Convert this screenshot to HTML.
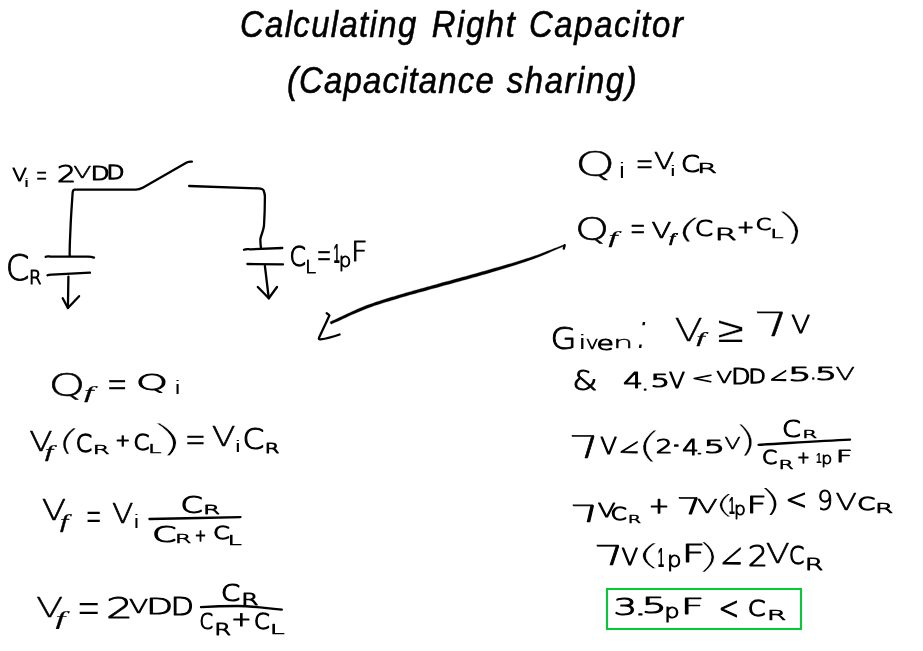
<!DOCTYPE html>
<html lang="en">
<head>
<meta charset="utf-8">
<title>Calculating Right Capacitor (Capacitance sharing)</title>
<style>
html,body{margin:0;padding:0;background:#fff;}
body{width:923px;height:651px;overflow:hidden;position:relative;}
#board{position:absolute;left:0;top:0;}
text{font-size:100px;fill:#000;white-space:pre;stroke-linejoin:round;stroke-linecap:round;vector-effect:non-scaling-stroke;}
.t{font-family:"Liberation Sans",sans-serif;font-style:italic;stroke:#000;stroke-width:0.55px;}
.x{font-family:"DejaVu Sans Light","DejaVu Sans","Liberation Sans",sans-serif;font-weight:200;}
.h{font-family:"Liberation Sans",sans-serif;}
.hb{font-family:"Liberation Sans",sans-serif;font-weight:bold;}
.hi{font-family:"Liberation Sans",sans-serif;font-style:italic;}
.ri{font-family:"Liberation Serif",serif;font-style:italic;}
.r{font-family:"Liberation Serif",serif;}
.ink{fill:none;stroke:#000;stroke-width:2.3;stroke-linecap:round;stroke-linejoin:round;}
.box{fill:none;stroke:#00cc33;stroke-width:2;}
svg{display:block;will-change:transform;}
</style>
</head>
<body>
<svg id="board" width="923" height="651" viewBox="0 0 923 651">
<rect width="923" height="651" fill="#fff"/>

<g id="title">
<text class="t" transform="matrix(0.3285 0 0 0.3650 239.89 37.30)" letter-spacing="4.21">Calculating</text>
<text class="t" transform="matrix(0.3285 0 0 0.3650 431.81 37.30)" letter-spacing="4.82">Right</text>
<text class="t" transform="matrix(0.3285 0 0 0.3650 528.89 37.30)" letter-spacing="5.08">Capacitor</text>
<text class="t" transform="matrix(0.3285 0 0 0.3650 286.94 92.90)" letter-spacing="3.66">(Capacitance</text>
<text class="t" transform="matrix(0.3285 0 0 0.3650 506.72 92.90)" letter-spacing="4.91">sharing)</text>
</g>
<g id="circuit">
<path class="ink" d="M69.7 255.7 C69.5 245 70.3 235 70.5 228 C71 215 72 203 72.6 193 C72.8 190.5 73.5 189.9 74.4 189.7 L135.8 189.7 C138 189.5 140 189 142.3 187.9 L186.7 162.5 C188.5 161.7 190 161.6 191.9 161.7" stroke-width="2.3"/>
<path class="ink" d="M189.1 186 L258.3 188.4 C262 188.6 263.3 189.3 263.8 191 C264.6 193 264.9 195 264.9 197 C264.9 207 264.6 216 264 225.7 C263.5 231 261 235 260.4 238.8 C260.2 242 260.6 245 261 248" stroke-width="2.3"/>
<path class="ink" d="M45.7 256.8 C47 256 48 256.3 50 256.5 L88 256.6 C90 256.6 92 256.8 94 257.6" stroke-width="2.3"/>
<path class="ink" d="M47.5 275.3 C49 274.5 50 274.6 52 274.6 L90 272.7" stroke-width="2.3"/>
<path class="ink" d="M68.4 276.6 L67.9 308" stroke-width="2.3"/>
<path class="ink" d="M62.7 298.3 L67.9 308 L79.1 296.2" stroke-width="2.3"/>
<path class="ink" d="M244 249.7 C246 248.8 248 249.2 250 249.3 L282.3 248" stroke-width="2.3"/>
<path class="ink" d="M247.4 264 L283 264.4" stroke-width="2.3"/>
<path class="ink" d="M264.9 266 L268.8 298.3" stroke-width="2.3"/>
<path class="ink" d="M257.8 287 L268.8 298.3 L277 287" stroke-width="2.3"/>
<path d="M564.5 244.6 L562.0 245.5 L559.6 246.5 L557.2 247.4 L554.8 248.3 L552.4 249.3 L550.0 250.2 L547.6 251.1 L545.2 252.1 L542.7 253.0 L540.3 253.9 L537.7 254.9 L535.1 255.8 L532.4 256.7 L529.6 257.7 L526.7 258.6 L523.8 259.6 L520.7 260.5 L517.6 261.5 L514.5 262.4 L511.3 263.4 L508.0 264.3 L504.8 265.3 L501.5 266.3 L498.2 267.2 L494.9 268.1 L491.6 269.1 L488.3 270.0 L485.1 270.9 L481.8 271.8 L478.6 272.8 L475.3 273.7 L472.1 274.6 L468.8 275.5 L465.5 276.4 L462.2 277.3 L458.9 278.2 L455.7 279.1 L452.4 280.0 L449.2 280.9 L445.9 281.7 L442.7 282.6 L439.6 283.5 L436.4 284.4 L433.3 285.3 L430.1 286.2 L426.9 287.0 L423.8 287.9 L420.6 288.8 L417.5 289.7 L414.4 290.5 L411.4 291.4 L408.4 292.2 L405.5 293.1 L402.6 293.9 L399.8 294.7 L397.1 295.6 L394.4 296.4 L391.9 297.1 L389.5 297.8 L387.1 298.6 L384.8 299.3 L382.5 300.0 L380.3 300.7 L378.1 301.4 L375.9 302.1 L373.7 302.9 L371.4 303.7 L369.2 304.5 L366.8 305.3 L364.5 306.2 L362.1 307.2 L359.6 308.2 L357.2 309.3 L354.7 310.4 L352.3 311.5 L349.8 312.7 L347.3 313.8 L344.8 315.0 L342.3 316.2 L339.9 317.3 L337.4 318.5 L334.9 319.7 L332.4 320.8 L330.0 322.0 L331.0 324.2 L333.5 323.1 L336.0 322.0 L338.5 320.9 L341.0 319.7 L343.5 318.6 L346.0 317.4 L348.4 316.3 L350.9 315.1 L353.4 314.0 L355.9 312.9 L358.3 311.9 L360.7 310.9 L363.1 309.9 L365.5 309.0 L367.9 308.1 L370.2 307.2 L372.4 306.4 L374.6 305.6 L376.8 304.9 L379.0 304.2 L381.2 303.5 L383.4 302.8 L385.7 302.1 L388.0 301.4 L390.3 300.7 L392.8 300.0 L395.3 299.2 L397.9 298.4 L400.6 297.6 L403.4 296.8 L406.3 296.0 L409.2 295.1 L412.2 294.3 L415.3 293.5 L418.3 292.6 L421.5 291.7 L424.6 290.9 L427.8 290.0 L430.9 289.1 L434.1 288.2 L437.3 287.4 L440.4 286.5 L443.6 285.6 L446.8 284.7 L450.0 283.9 L453.2 283.0 L456.5 282.1 L459.7 281.2 L463.0 280.3 L466.3 279.4 L469.6 278.5 L472.9 277.6 L476.2 276.7 L479.4 275.7 L482.7 274.8 L485.9 273.9 L489.2 272.9 L492.4 271.9 L495.7 271.0 L499.0 270.0 L502.3 269.0 L505.6 268.0 L508.8 267.0 L512.1 266.0 L515.3 265.0 L518.4 264.0 L521.5 262.9 L524.6 261.9 L527.5 260.9 L530.4 259.9 L533.2 258.9 L535.9 257.9 L538.5 256.9 L541.0 255.9 L543.5 254.9 L545.9 253.9 L548.3 252.9 L550.7 251.8 L553.0 250.8 L555.4 249.8 L557.7 248.8 L560.1 247.8 L562.5 246.8 L564.9 245.8Z" fill="#000" stroke="#000" stroke-width="0.3" stroke-linejoin="round"/>
<path class="ink" d="M564.7 245.2 L563.8 248.6" stroke-width="1.4"/>
<path class="ink" d="M326.7 313.2 C328 314 329 314.8 329.4 315.6 C326 323 322.5 330.5 319.1 337.6 C318.5 339 319 339.6 320.5 339.4 C327 338.5 333.5 336.6 339.6 334.5" stroke-width="2.2"/>
</g>
<g id="vi">
<text class="x" transform="matrix(0.2138 0 0 0.1835 12.33 181.28)" stroke="#000" stroke-width="1.06">V</text><text class="x" transform="matrix(0.4689 0 0 0.1145 20.33 186.83)">i</text>
<text class="x" transform="matrix(0.1399 0 0 0.3483 35.78 187.43)" stroke="#000" stroke-width="0.31">=</text>
<text class="x" transform="matrix(0.301 0 0 0.2307 56.97 182.46)" stroke="#000" stroke-width="1.27">2</text><text class="x" transform="matrix(0.2662 0 0 0.1533 73.16 177.92)" stroke="#000" stroke-width="0.67">V</text><text class="x" transform="matrix(0.2446 0 0 0.1856 90.82 179.97)" stroke="#000" stroke-width="1.45">D</text><text class="x" transform="matrix(0.2335 0 0 0.1916 106.47 179.17)" stroke="#000" stroke-width="1.47">D</text>
</g>
<g id="cr">
<text class="x" transform="matrix(0.3398 0 0 0.3507 5.84 279.83)" stroke="#000" stroke-width="0.89">C</text><text class="x" transform="matrix(0.1801 0 0 0.1934 29.06 283.98)" stroke="#000" stroke-width="1.15">R</text>
</g>
<g id="cl">
<text class="x" transform="matrix(0.234 0 0 0.2741 289.44 266.22)" stroke="#000" stroke-width="1.24">C</text><text class="x" transform="matrix(0.1981 0 0 0.1803 305.09 273.48)" stroke="#000" stroke-width="0.84">L</text>
<text class="x" transform="matrix(0.1797 0 0 0.4275 316.43 269.07)" stroke="#000" stroke-width="0.36">=</text>
<text class="hb" transform="matrix(0.1127 0 0 0.2828 333.52 263.20)">1</text><text class="x" transform="matrix(0.1983 0 0 0.1892 338.76 266.88)" stroke="#000" stroke-width="0.99">p</text><text class="x" transform="matrix(0.2879 0 0 0.2623 351.07 260.95)" stroke="#000" stroke-width="0.90">F</text>
</g>
<g id="eq1">
<text class="x" transform="matrix(0.4693 0 0 0.3125 48.45 395.67)" stroke="#000" stroke-width="0.64">Q</text><text class="ri" transform="matrix(0.3367 0 0 0.1736 84.33 397.78)" stroke="#000" stroke-width="0.40">f</text>
<text class="x" transform="matrix(0.2492 0 0 0.4413 106.82 398.65)" stroke="#000" stroke-width="0.38">=</text>
<text class="x" transform="matrix(0.4122 0 0 0.2166 135.79 390.23)" stroke="#000" stroke-width="1.20">Q</text><text class="x" transform="matrix(0.4689 0 0 0.1735 171.33 393.72)">i</text>
</g>
<g id="eq2">
<text class="x" transform="matrix(0.3413 0 0 0.2614 29.28 450.81)" stroke="#000" stroke-width="0.68">V</text><text class="ri" transform="matrix(0.2972 0 0 0.169 44.96 457.49)" stroke="#000" stroke-width="0.46">f</text><text class="x" transform="matrix(0.4746 0 -0.0713 0.285 56.28 450.49)" stroke="#000" stroke-width="0.17">(</text><text class="x" transform="matrix(0.2355 0 0 0.239 75.83 451.71)" stroke="#000" stroke-width="1.35">C</text><text class="x" transform="matrix(0.2438 0 0 0.1259 92.63 453.62)" stroke="#000" stroke-width="1.08">R</text><text class="x" transform="matrix(0.1736 0 0 0.1639 115.46 446.26)" stroke="#000" stroke-width="1.38">+</text><text class="x" transform="matrix(0.2277 0 0 0.2111 133.42 449.83)" stroke="#000" stroke-width="1.41">C</text><text class="x" transform="matrix(0.2418 0 0 0.1268 148.07 453.41)" stroke="#000" stroke-width="1.01">L</text><text class="x" transform="matrix(0.8261 0 0.1092 0.3639 155.78 450.57)" stroke="#fff" stroke-width="0.65">)</text>
<text class="x" transform="matrix(0.2548 0 0 0.4116 184.81 453.41)" stroke="#000" stroke-width="0.37">=</text>
<text class="x" transform="matrix(0.3479 0 0 0.2582 211.80 445.82)" stroke="#000" stroke-width="0.67">V</text><text class="x" transform="matrix(0.473 0 0 0.1661 231.47 452.26)">i</text><text class="x" transform="matrix(0.3131 0 0 0.2773 242.59 449.46)" stroke="#000" stroke-width="1.04">C</text><text class="x" transform="matrix(0.2105 0 0 0.1449 264.75 452.56)" stroke="#000" stroke-width="1.27">R</text>
</g>
<g id="eq3">
<text class="x" transform="matrix(0.3575 0 0 0.2859 41.80 519.94)" stroke="#000" stroke-width="0.63">V</text><text class="ri" transform="matrix(0.2989 0 0 0.1953 59.92 528.46)" stroke="#000" stroke-width="0.39">f</text>
<text class="x" transform="matrix(0.1951 0 0 0.537 85.47 533.97)">=</text>
<text class="x" transform="matrix(0.3134 0 0 0.2576 111.96 523.43)" stroke="#000" stroke-width="0.75">V</text><text class="x" transform="matrix(0.4599 0 0 0.1713 130.26 527.91)">i</text>
<text class="x" transform="matrix(0.32 0 0 0.2336 180.51 512.75)" stroke="#000" stroke-width="1.31">C</text><text class="x" transform="matrix(0.2468 0 0 0.1315 203.09 514.18)" stroke="#000" stroke-width="1.15">R</text>
<text class="x" transform="matrix(0.3463 0 0 0.2061 152.33 541.54)" stroke="#000" stroke-width="1.49">C</text><text class="x" transform="matrix(0.2357 0 0 0.1226 174.97 543.03)" stroke="#000" stroke-width="1.07">R</text><text class="x" transform="matrix(0.1319 0 0 0.1496 195.02 540.84)" stroke="#000" stroke-width="1.23">+</text><text class="x" transform="matrix(0.2355 0 0 0.1699 213.31 539.33)" stroke="#000" stroke-width="1.52">C</text><text class="x" transform="matrix(0.2577 0 0 0.1381 227.56 544.99)" stroke="#000" stroke-width="1.04">L</text>
<path class="ink" d="M149.4 519 C180 518.4 210 517.8 240.5 517.1" stroke-width="2.5"/>
</g>
<g id="eq4">
<text class="x" transform="matrix(0.3992 0 0 0.2734 36.03 617.48)" stroke="#000" stroke-width="0.45">V</text><text class="ri" transform="matrix(0.3589 0 0 0.1984 55.43 625.36)" stroke="#000" stroke-width="0.26">f</text>
<text class="x" transform="matrix(0.2858 0 0 0.5492 76.75 625.58)" stroke="#000" stroke-width="0.14">=</text>
<text class="x" transform="matrix(0.4262 0 0 0.2864 106.03 618.13)" stroke="#000" stroke-width="1.04">2</text><text class="x" transform="matrix(0.281 0 0 0.1993 129.11 613.43)" stroke="#000" stroke-width="0.85">V</text><text class="x" transform="matrix(0.3476 0 0 0.2133 146.29 614.03)" stroke="#000" stroke-width="1.23">D</text><text class="x" transform="matrix(0.3012 0 0 0.2406 170.85 615.21)" stroke="#000" stroke-width="1.19">D</text>
<text class="x" transform="matrix(0.2747 0 0 0.2256 220.96 600.78)" stroke="#000" stroke-width="1.36">C</text><text class="x" transform="matrix(0.2482 0 0 0.1641 241.26 604.93)" stroke="#000" stroke-width="1.32">R</text>
<text class="x" transform="matrix(0.1938 0 0 0.2053 199.57 628.52)" stroke="#000" stroke-width="1.16">C</text><text class="x" transform="matrix(0.2418 0 0 0.1637 214.26 634.52)" stroke="#000" stroke-width="1.25">R</text><text class="x" transform="matrix(0.2352 0 0 0.1901 231.38 626.43)" stroke="#000" stroke-width="1.40">+</text><text class="x" transform="matrix(0.2242 0 0 0.2074 254.10 628.79)" stroke="#000" stroke-width="1.39">C</text><text class="x" transform="matrix(0.2678 0 0 0.1467 269.71 634.15)" stroke="#000" stroke-width="1.09">L</text>
<path class="ink" d="M201 607.2 C213 606.4 226 606 237.7 606 C253 606.3 268 608 281.8 609.6" stroke-width="2.8"/>
</g>
<g id="eq5">
<text class="x" transform="matrix(0.5119 0 0 0.3303 574.99 176.09)" stroke="#000" stroke-width="0.54">Q</text><text class="x" transform="matrix(0.4599 0 0 0.2108 615.76 178.41)">i</text>
<text class="x" transform="matrix(0.2169 0 0 0.3948 635.54 175.82)" stroke="#000" stroke-width="0.35">=</text>
<text class="x" transform="matrix(0.2975 0 0 0.2215 654.09 168.99)" stroke="#000" stroke-width="0.83">V</text><text class="x" transform="matrix(0.4689 0 0 0.1398 666.58 175.76)">i</text><text class="x" transform="matrix(0.2702 0 0 0.2348 681.10 171.92)" stroke="#000" stroke-width="1.26">C</text><text class="x" transform="matrix(0.289 0 0 0.1462 696.98 173.24)" stroke="#000" stroke-width="1.13">R</text>
</g>
<g id="eq6">
<text class="x" transform="matrix(0.4339 0 0 0.3119 574.91 240.25)" stroke="#000" stroke-width="0.69">Q</text><text class="ri" transform="matrix(0.3282 0 0 0.1697 608.55 243.30)" stroke="#000" stroke-width="0.40">f</text>
<text class="x" transform="matrix(0.1924 0 0 0.4021 629.84 242.36)" stroke="#000" stroke-width="0.25">=</text>
<text class="x" transform="matrix(0.2907 0 0 0.2206 651.43 237.57)" stroke="#000" stroke-width="0.86">V</text><text class="ri" transform="matrix(0.2137 0 0 0.1324 669.15 241.51)" stroke="#000" stroke-width="0.85">f</text><text class="x" transform="matrix(0.5555 0 -0.08 0.2666 674.83 238.11)" stroke="#000" stroke-width="0.22">(</text><text class="x" transform="matrix(0.2626 0 0 0.2194 694.75 236.41)" stroke="#000" stroke-width="1.33">C</text><text class="x" transform="matrix(0.3221 0 0 0.1652 714.59 240.20)" stroke="#000" stroke-width="1.19">R</text><text class="x" transform="matrix(0.2055 0 0 0.1687 737.07 233.07)" stroke="#000" stroke-width="1.27">+</text><text class="x" transform="matrix(0.2217 0 0 0.1557 755.84 230.19)" stroke="#000" stroke-width="1.45">C</text><text class="x" transform="matrix(0.2384 0 0 0.1269 770.19 237.73)" stroke="#000" stroke-width="1.04">L</text><text class="x" transform="matrix(0.674 0 0.1089 0.363 781.76 238.69)" stroke="#fff" stroke-width="0.27">)</text>
</g>
<g id="eq7">
<text class="x" transform="matrix(0.3365 0 0 0.3061 550.46 349.41)" stroke="#000" stroke-width="0.97">G</text><text class="x" transform="matrix(0.521 0 0 0.1989 575.35 349.26)">i</text><text class="x" transform="matrix(0.2241 0 0 0.1766 585.59 348.86)" stroke="#000" stroke-width="0.79">v</text><text class="x" transform="matrix(0.2814 0 0 0.1901 596.50 349.91)" stroke="#000" stroke-width="1.42">e</text><text class="x" transform="matrix(0.3211 0 0 0.1598 613.05 348.03)" stroke="#000" stroke-width="0.57">n</text><text class="x" transform="matrix(0.4943 0 -0.0816 0.544 631.83 347.91)">:</text>
<text class="x" transform="matrix(0.415 0 0 0.3107 674.54 341.12)" stroke="#000" stroke-width="0.38">V</text><text class="ri" transform="matrix(0.2979 0 0 0.1553 696.59 343.10)" stroke="#000" stroke-width="0.51">f</text>
<text class="x" transform="matrix(0.4805 0 0 0.3611 717.42 341.64)" stroke="#fff" stroke-width="0.19">≥</text>
<text class="x" transform="matrix(0.5662 0 0.1003 0.3343 759.81 335.68)" stroke="#000" stroke-width="0.45">7</text><text class="x" transform="matrix(0.2786 0 0 0.2555 791.14 333.35)" stroke="#000" stroke-width="0.90">V</text>
</g>
<g id="eq8">
<text class="x" transform="matrix(0.325 0 0 0.2655 572.36 389.99)" stroke="#000" stroke-width="1.05">&amp;</text>
<text class="x" transform="matrix(0.3174 0 0 0.2132 623.05 388.21)" stroke="#000" stroke-width="1.19">4</text><text class="x" transform="matrix(0.2148 0 0 0.1601 641.74 389.84)" stroke="#000" stroke-width="1.50">.</text><text class="x" transform="matrix(0.3051 0 0 0.1769 650.43 387.23)" stroke="#000" stroke-width="1.62">5</text><text class="x" transform="matrix(0.2336 0 0 0.2106 668.90 387.59)" stroke="#000" stroke-width="1.13">V</text>
<text class="x" transform="matrix(0.2628 0 0 0.1468 691.42 383.26)" stroke="#000" stroke-width="1.38">&lt;</text>
<text class="x" transform="matrix(0.2337 0 0 0.1662 716.17 383.02)" stroke="#000" stroke-width="0.88">V</text><text class="x" transform="matrix(0.2508 0 0 0.2056 731.26 384.10)" stroke="#000" stroke-width="1.39">D</text><text class="x" transform="matrix(0.2262 0 0 0.2004 748.49 383.23)" stroke="#000" stroke-width="1.43">D</text>
<text class="x" transform="matrix(0.2247 -0.0674 0 0.2089 769.29 387.09)" stroke="#000" stroke-width="1.21">&lt;</text>
<text class="x" transform="matrix(0.37 0 0 0.1961 788.06 381.21)" stroke="#000" stroke-width="1.69">5</text><text class="x" transform="matrix(0.174 0 0 0.1842 810.58 379.45)" stroke="#000" stroke-width="1.50">.</text><text class="x" transform="matrix(0.3453 0 0 0.1839 814.95 380.30)" stroke="#000" stroke-width="1.66">5</text><text class="x" transform="matrix(0.2841 0 0 0.1795 835.48 380.39)" stroke="#000" stroke-width="0.71">V</text>
</g>
<g id="eq9">
<text class="x" transform="matrix(0.4881 0 0.0932 0.3108 574.78 457.84)" stroke="#000" stroke-width="0.62">7</text><text class="x" transform="matrix(0.2465 0 0 0.2242 600.32 453.63)" stroke="#000" stroke-width="1.04">V</text>
<text class="x" transform="matrix(0.255 -0.0765 0 0.2295 618.50 459.91)" stroke="#000" stroke-width="1.16">&lt;</text>
<text class="x" transform="matrix(0.6891 0 -0.0354 0.3537 634.28 456.95)" stroke="#fff" stroke-width="0.45">(</text><text class="x" transform="matrix(0.2649 0 0 0.1913 655.87 453.23)" stroke="#000" stroke-width="1.36">2</text><text class="x" transform="matrix(0.4001 0 0 0.1895 670.01 452.22)" stroke="#000" stroke-width="2.04">·</text><text class="x" transform="matrix(0.2597 0 0 0.2075 682.36 454.63)" stroke="#000" stroke-width="1.25">4</text><text class="x" transform="matrix(0.3422 0 0 0.145 694.04 453.68)" stroke="#000" stroke-width="1.50">.</text><text class="x" transform="matrix(0.3328 0 0 0.1769 703.65 452.80)" stroke="#000" stroke-width="1.68">5</text><text class="x" transform="matrix(0.2358 0 0 0.1585 724.55 448.68)" stroke="#000" stroke-width="0.74">V</text><text class="x" transform="matrix(0.5775 0 0.053 0.3536 736.77 451.17)" stroke="#fff" stroke-width="0.20">)</text>
<text class="x" transform="matrix(0.2702 0 0 0.2348 782.10 437.37)" stroke="#000" stroke-width="1.26">C</text><text class="x" transform="matrix(0.2158 0 0 0.1108 802.27 438.09)" stroke="#000" stroke-width="1.02">R</text>
<text class="x" transform="matrix(0.2178 0 0 0.1868 761.95 464.32)" stroke="#000" stroke-width="1.41">C</text><text class="x" transform="matrix(0.2184 0 0 0.116 778.39 468.63)" stroke="#000" stroke-width="1.06">R</text><text class="x" transform="matrix(0.1471 0 0 0.1574 797.37 462.79)" stroke="#000" stroke-width="1.23">+</text><text class="hb" transform="matrix(0.1022 0 0 0.152 815.99 462.74)">1</text><text class="x" transform="matrix(0.1729 0 0 0.163 821.18 464.00)" stroke="#000" stroke-width="0.95">p</text><text class="x" transform="matrix(0.2848 0 0 0.1529 835.89 462.28)" stroke="#000" stroke-width="1.44">F</text>
<path class="ink" d="M758.5 444.8 C790 443 820 441 850 439.6" stroke-width="2.8"/>
</g>
<g id="eq10">
<text class="x" transform="matrix(0.4461 0 0.1174 0.2348 578.04 521.67)" stroke="#000" stroke-width="0.96">7</text><text class="x" transform="matrix(0.2615 0 0 0.1924 597.75 516.80)" stroke="#000" stroke-width="1.01">V</text><text class="x" transform="matrix(0.2285 0 0 0.176 610.86 519.73)" stroke="#000" stroke-width="1.52">C</text><text class="x" transform="matrix(0.1927 0 0 0.0979 627.86 523.06)" stroke="#000" stroke-width="1.01">R</text>
<text class="x" transform="matrix(0.2396 0 0 0.2104 648.97 513.07)" stroke="#000" stroke-width="1.46">+</text>
<text class="x" transform="matrix(0.3949 0 0.0682 0.2275 680.91 514.20)" stroke="#000" stroke-width="1.10">7</text><text class="x" transform="matrix(0.303 0 0 0.1911 697.09 513.13)" stroke="#000" stroke-width="0.86">V</text><text class="x" transform="matrix(0.5893 0 0 0.2405 713.16 512.90)" stroke="#fff" stroke-width="0.36">(</text><text class="hb" transform="matrix(0.1109 0 0 0.2399 728.87 513.89)">1</text><text class="x" transform="matrix(0.1863 0 0 0.1782 734.03 515.01)" stroke="#000" stroke-width="0.98">p</text><text class="x" transform="matrix(0.35 0 0 0.234 746.48 512.51)" stroke="#000" stroke-width="1.27">F</text><text class="x" transform="matrix(0.5333 0 0.0608 0.3041 762.63 511.34)">)</text>
<text class="x" transform="matrix(0.26 0 0 0.2811 785.56 509.09)" stroke="#000" stroke-width="1.09">&lt;</text>
<text class="x" transform="matrix(0.2469 0 0 0.2741 817.23 510.40)" stroke="#000" stroke-width="0.99">9</text><text class="x" transform="matrix(0.3132 0 0 0.2369 835.46 510.47)" stroke="#000" stroke-width="0.76">V</text><text class="x" transform="matrix(0.2574 0 0 0.1737 857.32 509.59)" stroke="#000" stroke-width="1.59">C</text><text class="x" transform="matrix(0.2636 0 0 0.1373 875.12 512.59)" stroke="#000" stroke-width="1.13">R</text>
</g>
<g id="eq11">
<text class="x" transform="matrix(0.4821 0 0.0957 0.2736 599.99 564.66)" stroke="#000" stroke-width="0.78">7</text><text class="x" transform="matrix(0.2442 0 0 0.2306 621.44 564.76)" stroke="#000" stroke-width="1.08">V</text><text class="x" transform="matrix(0.7722 0 0 0.284 633.97 565.44)" stroke="#fff" stroke-width="0.59">(</text><text class="hb" transform="matrix(0.1146 0 0 0.2785 657.75 566.75)">1</text><text class="x" transform="matrix(0.2292 0 0 0.2103 666.97 567.03)" stroke="#000" stroke-width="1.02">p</text><text class="x" transform="matrix(0.4126 0 0 0.2403 681.54 562.05)" stroke="#000" stroke-width="1.20">F</text><text class="x" transform="matrix(0.713 0 0 0.3416 693.96 567.74)" stroke="#fff" stroke-width="0.73">)</text>
<text class="x" transform="matrix(0.2774 -0.1165 0 0.3306 719.91 574.66)" stroke="#000" stroke-width="0.94">&lt;</text>
<text class="x" transform="matrix(0.3191 0 0 0.2771 747.82 565.79)" stroke="#000" stroke-width="1.03">2</text><text class="x" transform="matrix(0.3512 0 0 0.2587 765.67 562.94)" stroke="#000" stroke-width="0.62">V</text><text class="x" transform="matrix(0.2193 0 0 0.242 788.92 564.30)" stroke="#000" stroke-width="1.27">C</text><text class="x" transform="matrix(0.2672 0 0 0.1597 804.76 569.65)" stroke="#000" stroke-width="1.19">R</text>
</g>
<g id="eq12">
<text class="x" transform="matrix(0.3721 0 0 0.224 613.49 614.73)" stroke="#000" stroke-width="1.38">3</text><text class="x" transform="matrix(0.3885 0 0 0.2002 634.27 614.96)" stroke="#000" stroke-width="1.92">.</text><text class="x" transform="matrix(0.3921 0 0 0.206 641.77 613.24)" stroke="#000" stroke-width="1.60">5</text><text class="x" transform="matrix(0.243 0 0 0.2011 664.31 617.67)" stroke="#000" stroke-width="1.12">p</text><text class="x" transform="matrix(0.4061 0 0 0.2148 680.64 614.46)" stroke="#000" stroke-width="1.37">F</text>
<text class="x" transform="matrix(0.2469 0 0 0.3161 718.53 619.48)" stroke="#000" stroke-width="0.96">&lt;</text>
<text class="x" transform="matrix(0.255 0 0 0.2098 747.69 616.28)" stroke="#000" stroke-width="1.41">C</text><text class="x" transform="matrix(0.2832 0 0 0.1444 766.65 620.17)" stroke="#000" stroke-width="1.16">R</text>
<rect class="box" x="607" y="589" width="194" height="40"/>
</g>
</svg>
<script>
/* If the light DejaVu face is not installed the handwriting falls back to the regular
   weight; thin it with a background-coloured outline so the ink weight stays the same. */
(function(){
  try{
    function inkOf(font){
      var c=document.createElement('canvas');c.width=240;c.height=90;
      var g=c.getContext('2d');g.fillStyle='#fff';g.fillRect(0,0,240,90);
      g.fillStyle='#000';g.font=font;g.textBaseline='alphabetic';g.fillText('HOVER',4,74);
      var d=g.getImageData(0,0,240,90).data,s=0;
      for(var i=0;i<d.length;i+=4){s+=255-d[i];}
      return s;
    }
    var light=inkOf('200 64px "DejaVu Sans Light","DejaVu Sans","Liberation Sans",sans-serif');
    var book=inkOf('400 64px "DejaVu Sans","Liberation Sans",sans-serif');
    if(book>0 && light/book>0.8){
      var ts=document.querySelectorAll('text.x');
      for(var k=0;k<ts.length;k++){
        var t=ts[k],m=t.transform.baseVal.consolidate().matrix;
        var sf=Math.sqrt((m.a*m.a+m.d*m.d)/2);
        var e=parseFloat(t.getAttribute('stroke-width')||'0');
        if(t.getAttribute('stroke')==='#fff'){e=-e;}
        var ne=e-4.6*sf;
        t.setAttribute('stroke',ne<0?'#fff':'#000');
        t.setAttribute('stroke-width',Math.abs(ne).toFixed(2));
      }
    }
  }catch(err){}
})();
</script>
</body>
</html>
